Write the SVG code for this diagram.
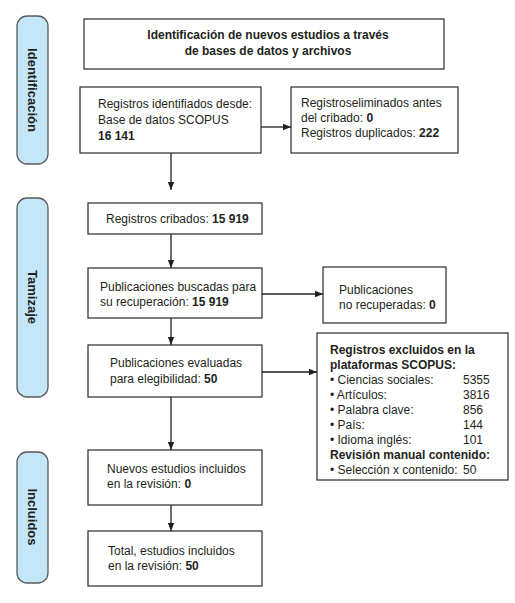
<svg xmlns="http://www.w3.org/2000/svg" width="515" height="603" viewBox="0 0 515 603">
<defs>
<marker id="ah" viewBox="0 0 8 8" refX="8" refY="4" markerWidth="8" markerHeight="8" markerUnits="userSpaceOnUse" orient="auto">
<path d="M0,0.8 L8,4 L0,7.2 Z" fill="#231f20"/>
</marker>
<style>
.box{fill:#fff;stroke:#3a3a3a;stroke-width:1.3}
.pill{fill:#c3e6f8;stroke:#58595b;stroke-width:1.3}
text{font-family:"Liberation Sans",Arial,sans-serif;font-size:12px;fill:#231f20}
.b{font-weight:bold}
.pt{font-weight:bold;font-size:13px;text-anchor:middle}
.c{stroke:#231f20;stroke-width:1.3;fill:none;marker-end:url(#ah)}
</style>
</defs>
<rect width="515" height="603" fill="#fff"/>
<g id="phase-identificacion">
<rect class="pill" x="17" y="16" width="31" height="148" rx="10"/>
<text class="pt" transform="translate(32.5,90) rotate(90)" y="4.7">Identificación</text>
</g>
<g id="phase-tamizaje">
<rect class="pill" x="17" y="198" width="31" height="199" rx="10"/>
<text class="pt" transform="translate(32.5,297) rotate(90)" y="4.7">Tamizaje</text>
</g>
<g id="phase-incluidos">
<rect class="pill" x="17" y="452" width="31" height="131" rx="10"/>
<text class="pt" transform="translate(32.5,517) rotate(90)" y="4.7">Incluidos</text>
</g>
<g id="header">
<rect class="box" x="84" y="19" width="360" height="50"/>
<text class="b" x="268" y="39" text-anchor="middle">Identificación de nuevos estudios a través</text>
<text class="b" x="268" y="55" text-anchor="middle">de bases de datos y archivos</text>
</g>
<g id="identificados">
<rect class="box" x="80" y="87" width="181" height="66"/>
<text x="98" y="108">Registros identifiados desde:</text>
<text x="98" y="124">Base de datos SCOPUS</text>
<text x="98" y="140" class="b">16 141</text>
</g>
<g id="eliminados">
<rect class="box" x="291" y="87" width="167" height="66"/>
<text x="301" y="107">Registroseliminados antes</text>
<text x="301" y="122">del cribado: <tspan class="b">0</tspan></text>
<text x="301" y="137">Registros duplicados: <tspan class="b">222</tspan></text>
</g>
<g id="cribados">
<rect class="box" x="88" y="203" width="174" height="31"/>
<text x="106" y="223">Registros cribados: <tspan class="b">15 919</tspan></text>
</g>
<g id="buscadas">
<rect class="box" x="88" y="268" width="174" height="50"/>
<text x="100" y="291">Publicaciones buscadas para</text>
<text x="100" y="306">su recuperación: <tspan class="b">15 919</tspan></text>
</g>
<g id="no-recuperadas">
<rect class="box" x="323" y="267" width="123" height="56"/>
<text x="339" y="294">Publicaciones</text>
<text x="339" y="309">no recuperadas: <tspan class="b">0</tspan></text>
</g>
<g id="evaluadas">
<rect class="box" x="88" y="345" width="174" height="52"/>
<text x="110" y="367">Publicaciones evaluadas</text>
<text x="110" y="383">para elegibilidad: <tspan class="b">50</tspan></text>
</g>
<g id="excluidos">
<rect class="box" x="317" y="333" width="191" height="147"/>
<text x="330" y="354" class="b">Registros excluidos en la</text>
<text x="330" y="369" class="b">plataformas SCOPUS:</text>
<text x="330" y="384">• Ciencias sociales:</text><text x="463" y="384">5355</text>
<text x="330" y="399">• Artículos:</text><text x="463" y="399">3816</text>
<text x="330" y="414">• Palabra clave:</text><text x="463" y="414">856</text>
<text x="330" y="429">• País:</text><text x="463" y="429">144</text>
<text x="330" y="444">• Idioma inglés:</text><text x="463" y="444">101</text>
<text x="330" y="459" class="b">Revisión manual contenido:</text>
<text x="330" y="474">• Selección x contenido:</text><text x="463" y="474">50</text>
</g>
<g id="nuevos">
<rect class="box" x="88" y="450" width="174" height="55"/>
<text x="107" y="473">Nuevos estudios incluidos</text>
<text x="107" y="488">en la revisión: <tspan class="b">0</tspan></text>
</g>
<g id="total">
<rect class="box" x="88" y="531" width="174" height="55"/>
<text x="108" y="555">Total, estudios incluidos</text>
<text x="108" y="570">en la revisión: <tspan class="b">50</tspan></text>
</g>
<g id="connectors">
<line class="c" x1="261" y1="127" x2="291" y2="127"/>
<line class="c" x1="171" y1="153" x2="171" y2="190"/>
<line class="c" x1="171" y1="234" x2="171" y2="268"/>
<line class="c" x1="262" y1="294" x2="323" y2="294"/>
<line class="c" x1="171" y1="318" x2="171" y2="345"/>
<line class="c" x1="262" y1="372" x2="317" y2="372"/>
<line class="c" x1="171" y1="397" x2="171" y2="450"/>
<line class="c" x1="171" y1="505" x2="171" y2="531"/>
</g>
</svg>
